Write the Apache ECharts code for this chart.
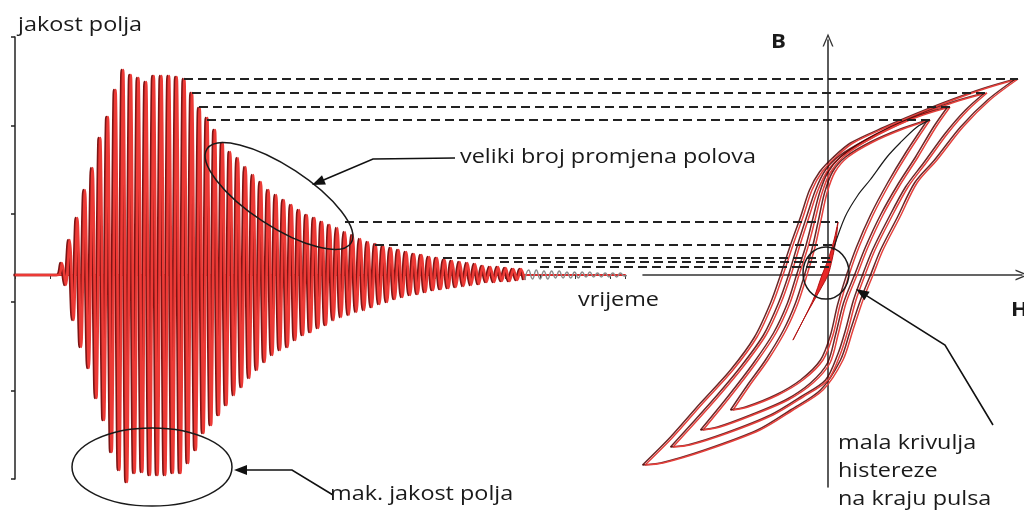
<!DOCTYPE html>
<html>
<head>
<meta charset="utf-8">
<script src="https://cdn.jsdelivr.net/npm/echarts@6/dist/echarts.min.js"></script>
<style>
html, body { margin: 0; background: #fff; }
#chart { width: 1024px; height: 515px; }
</style>
</head>
<body>
<div id="chart"></div>
<script>
// pulse: start of the oscillation and its period (time units)
var pulseStart = 47;
var pulsePeriod = 7.65;
var greyFrom = 61; // from this cycle on the tail is drawn grey

// positive / negative peak of every cycle (field strength)
var topAmp = [12, 35, 57, 85, 107, 137, 158, 185, 205,
  200, 197, 193, 199, 199, 199, 198, 196,
  182, 167, 157, 145, 132, 123, 117, 108, 100, 93, 85, 80, 75, 70, 65, 60, 57, 53, 50, 47,
  43, 40, 36, 33, 31, 29, 27, 25, 23, 21, 20, 18, 17, 15, 14, 13, 12, 11, 9, 8,
  8, 7, 6, 6, 5, 5, 4, 4, 4, 3, 3, 3, 3, 2, 2, 2, 2];
var bottomAmp = [10, 45, 72, 93, 123, 145, 177, 195, 207,
  198, 197, 200, 200, 200, 198, 198, 188,
  175, 158, 150, 140, 130, 120, 112, 103, 95, 87, 80, 75, 72, 65, 60, 57, 53, 50, 45, 42,
  40, 37, 35, 32, 29, 27, 24, 22, 20, 19, 17, 15, 14, 13, 12, 11, 10, 9, 7, 7,
  6, 6, 5, 5, 4, 4, 4, 3, 3, 3, 3, 2, 2, 2, 2, 2, 1];

// dashed links: peak time -> level -> tip of the loop (H)
var linkTime = [169, 177, 184, 192, 330, 360, 428, 485, 525];
var linkLevel = [196, 182, 168, 155, 53, 30, 17, 13, 8];
var linkTipH = [190, 159, 122, 102, 10, 7, 6, 4, 2];

// hysteresis loops [H, B], upper branch (falling) and lower branch (rising)
var loop1Up = [[190, 196], [159, 187], [125, 175], [92, 162], [59, 148], [25, 132], [7, 117], [-6, 103], [-16, 85], [-25, 58], [-35, 30], [-45, 0],
  [-55, -28], [-71, -62], [-95, -95], [-125, -128], [-155, -162], [-183, -190]];
var loop1Low = [[-183, -190], [-165, -188], [-121, -175], [-68, -155], [-35, -135], [-5, -115], [15, -85], [25, -55], [35, -25], [45, 0],
  [55, 25], [72, 58], [89, 92], [109, 115], [135, 148], [162, 175], [190, 196]];
var loop2Up = [[159, 182], [130, 174], [100, 163], [70, 150], [40, 135], [15, 120], [0, 105], [-10, 85], [-19, 58], [-28, 30], [-37, 0],
  [-47, -28], [-62, -60], [-85, -92], [-110, -122], [-135, -150], [-155, -172]];
var loop2Low = [[-155, -172], [-138, -170], [-100, -158], [-55, -140], [-25, -122], [0, -105], [12, -80], [20, -55], [28, -25], [37, 0],
  [47, 25], [62, 55], [80, 88], [98, 112], [120, 142], [140, 165], [159, 182]];
var loop3Up = [[122, 168], [95, 160], [65, 148], [35, 132], [15, 118], [2, 102], [-6, 82], [-13, 55], [-20, 28], [-29, 0],
  [-38, -28], [-52, -58], [-72, -88], [-98, -122], [-125, -155]];
var loop3Low = [[-125, -155], [-108, -152], [-75, -140], [-40, -125], [-15, -108], [2, -88], [10, -60], [18, -28], [29, 0],
  [40, 28], [55, 60], [72, 90], [90, 118], [108, 148], [122, 168]];
var loop4Up = [[102, 155], [75, 146], [45, 133], [20, 118], [7, 103], [-1, 82], [-7, 55], [-13, 28], [-21, 0],
  [-30, -28], [-42, -55], [-60, -85], [-78, -110], [-95, -135]];
var loop4Low = [[-95, -135], [-80, -132], [-50, -120], [-25, -105], [-5, -85], [5, -60], [12, -30], [21, 0],
  [31, 28], [45, 60], [62, 92], [80, 122], [102, 155]];
// small loop at the end of the pulse
var smallLoop = [[10, 53], [6, 35], [0, 15], [-6, 0], [-15, -25], [-35, -65], [-22, -40], [-8, -15], [0, 0], [4, 15], [8, 35], [10, 53]];
// black curve
var initCurve = [[5, 25], [17, 58], [30, 80], [42, 95], [59, 118], [72, 132], [89, 148], [102, 155]];

var signalRed = [[0, 0], [pulseStart - pulsePeriod / 2, 0]];
var signalGrey = [];
for (var i = 0; i < topAmp.length; i++) {
  var t = pulseStart + i * pulsePeriod;
  var p1 = [t, topAmp[i]], p2 = [t + pulsePeriod / 2, -bottomAmp[i]];
  if (i < greyFrom) { signalRed.push(p1, p2); }
  else { signalGrey.push(p1, p2); }
}
signalGrey.unshift(signalRed[signalRed.length - 1]);
signalGrey.push([signalGrey[signalGrey.length - 1][0] + pulsePeriod / 2, 0]);

var chart = echarts.init(document.getElementById('chart'));
var font = '"Open Sans", "Noto Sans", sans-serif';
var arrowSym = 'path://M0,13 L5.5,0 L11,13 L9.6,13 L5.5,3.2 L1.4,13 Z';

var loopStyle = {
  color: '#e5403c', width: 1.5,
  shadowColor: 'rgba(80,0,0,0.85)', shadowBlur: 0, shadowOffsetX: -2.5
};
var branches = [loop1Up, loop1Low, loop2Up, loop2Low, loop3Up, loop3Low, loop4Up, loop4Low];
var loopSeries = branches.map(function (b) {
  return {
    type: 'line', xAxisIndex: 1, yAxisIndex: 1, data: b, smooth: 0.3,
    showSymbol: false, lineStyle: loopStyle, clip: false, z: 3
  };
});

chart.setOption({
  animation: false,
  grid: [
    { left: 15, top: 37, width: 610, height: 442 },
    { left: 643, top: 40, width: 379, height: 447 }
  ],
  xAxis: [
    {
      type: 'value', gridIndex: 0, min: 0, max: 610, interval: 35,
      axisLine: { lineStyle: { color: '#d92b2b', width: 2 } },
      axisTick: { show: true, length: 4, lineStyle: { color: '#333' } },
      axisLabel: { show: false }, splitLine: { show: false }
    },
    {
      type: 'value', gridIndex: 1, min: -185, max: 194,
      axisLine: { symbol: ['none', arrowSym], symbolSize: [11, 13], lineStyle: { color: '#333', width: 1.6 } },
      axisTick: { show: false }, axisLabel: { show: false }, splitLine: { show: false }
    }
  ],
  yAxis: [
    {
      type: 'value', gridIndex: 0, min: -204, max: 238, interval: 88.4,
      axisLine: { onZero: false, lineStyle: { color: '#222', width: 1.5 } },
      axisTick: { show: true, length: 4, lineStyle: { color: '#222', width: 1.5 } },
      axisLabel: { show: false }, splitLine: { show: false }
    },
    {
      type: 'value', gridIndex: 1, min: -212, max: 235,
      axisLine: { symbol: ['none', arrowSym], symbolSize: [11, 13], lineStyle: { color: '#333', width: 1.6 } },
      axisTick: { show: false }, axisLabel: { show: false }, splitLine: { show: false }
    }
  ],
  series: [
    {
      type: 'line', xAxisIndex: 0, yAxisIndex: 0, data: signalRed, showSymbol: false, clip: false,
      smooth: 0.3,
      lineStyle: { color: '#ec3a36', width: 2.6, shadowColor: '#7c1414', shadowBlur: 0, shadowOffsetX: -1.6 },
      areaStyle: { color: '#f4504c', opacity: 1 }, z: 2
    },
    {
      type: 'line', xAxisIndex: 0, yAxisIndex: 0, data: signalGrey, showSymbol: false, clip: false,
      smooth: 0.5,
      lineStyle: { color: '#8c8c8c', width: 1.4 }, z: 2
    },
    {
      type: 'custom', xAxisIndex: 1, yAxisIndex: 1, data: [0], clip: false, z: 3,
      renderItem: function (params, api) {
        return {
          type: 'polygon',
          shape: { points: smallLoop.map(function (p) { return api.coord(p); }), smooth: 0.3 },
          style: { fill: '#e82828', stroke: '#b01010', lineWidth: 1 }
        };
      }
    },
    {
      type: 'line', xAxisIndex: 1, yAxisIndex: 1, data: initCurve, smooth: 0.3, showSymbol: false,
      lineStyle: { color: '#1a1a1a', width: 1.2 }, z: 4
    }
  ].concat(loopSeries)
});

// annotations
function arrowHead(tip, from) {
  var dx = tip[0] - from[0], dy = tip[1] - from[1];
  var len = Math.sqrt(dx * dx + dy * dy);
  var ux = dx / len, uy = dy / len, L = 13, W = 5;
  var bx = tip[0] - ux * L, by = tip[1] - uy * L;
  return {
    type: 'polygon', z: 20,
    shape: { points: [tip, [bx - uy * W, by + ux * W], [bx + uy * W, by - ux * W]] },
    style: { fill: '#111' }
  };
}
// the source picture is stretched sideways, so text is widened a little
function label(text, x, y, opts) {
  return {
    type: 'text', x: x, y: y, z: 20, scaleX: 1.17,
    style: Object.assign({
      text: text, font: '20px ' + font, fill: '#1a1a1a', textVerticalAlign: 'middle'
    }, opts || {})
  };
}

var g = [];
for (var k = 0; k < linkTime.length; k++) {
  var a = chart.convertToPixel({ gridIndex: 0 }, [linkTime[k], linkLevel[k]]);
  var b = chart.convertToPixel({ gridIndex: 1 }, [linkTipH[k], linkLevel[k]]);
  g.push({
    type: 'line', z: 10,
    shape: { x1: a[0], y1: a[1], x2: b[0], y2: a[1] },
    style: { stroke: '#222', lineWidth: 1.8, lineDash: [9, 5] }
  });
}
var ellStyle = { stroke: '#1a1a1a', lineWidth: 1.5, fill: 'none' };
g.push({ type: 'ellipse', x: 279, y: 196, rotation: -0.58, z: 20, shape: { cx: 0, cy: 0, rx: 86, ry: 30 }, style: ellStyle });
g.push({ type: 'ellipse', z: 20, shape: { cx: 152, cy: 467, rx: 80, ry: 39 }, style: ellStyle });
g.push({ type: 'ellipse', z: 20, shape: { cx: 826, cy: 273, rx: 23, ry: 26 }, style: ellStyle });

var arrows = [
  [[455, 158], [373, 159], [312, 185]],
  [[333, 495], [292, 470], [234, 470]],
  [[993, 425], [945, 345], [856, 289]]
];
arrows.forEach(function (pts) {
  var tip = pts[pts.length - 1], prev = pts[pts.length - 2];
  var dx = tip[0] - prev[0], dy = tip[1] - prev[1], len = Math.sqrt(dx * dx + dy * dy);
  var end = [tip[0] - dx / len * 10, tip[1] - dy / len * 10];
  g.push({ type: 'polyline', z: 20, shape: { points: pts.slice(0, -1).concat([end]) }, style: { stroke: '#111', lineWidth: 1.6, fill: 'none' } });
  g.push(arrowHead(tip, prev));
});

g.push(label('jakost polja', 18, 25));
g.push(label('veliki broj promjena polova', 460, 157));
g.push(label('mak. jakost polja', 330, 494));
g.push(label('vrijeme', 578, 300));
g.push(label('mala krivulja', 838, 443));
g.push(label('histereze', 838, 471));
g.push(label('na kraju pulsa', 838, 499));
g.push(label('B', 771, 43, { font: 'bold 19px ' + font }));
g.push(label('H', 1011, 311, { font: 'bold 19px ' + font }));

chart.setOption({ graphic: g });
</script>
</body>
</html>
